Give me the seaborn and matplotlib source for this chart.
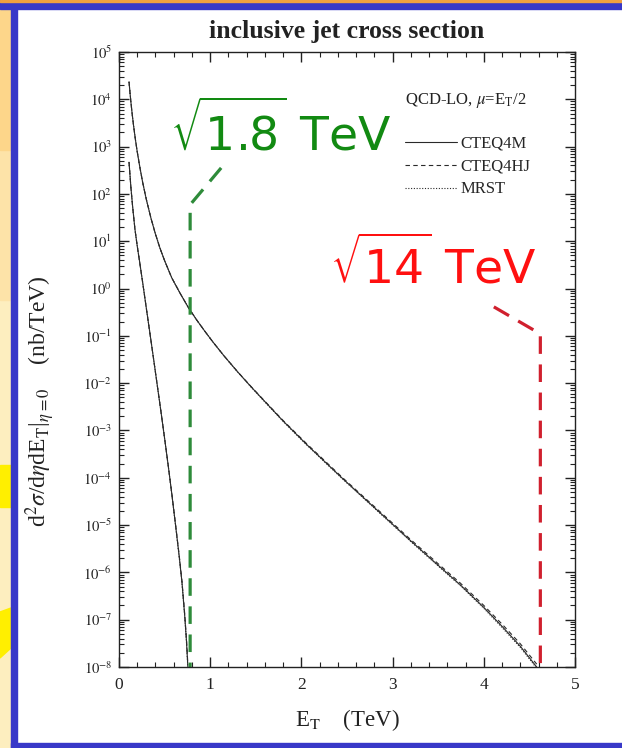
import numpy as np
import pandas as pd
import matplotlib
matplotlib.use("Agg")
import matplotlib.pyplot as plt
import seaborn as sns
from matplotlib.patches import Rectangle, Polygon
from matplotlib.lines import Line2D
from matplotlib.ticker import FixedLocator, NullFormatter, MultipleLocator, LogLocator

# ---------------- data ----------------
et_14 = [0.11, 0.12, 0.13, 0.145, 0.16, 0.18, 0.20, 0.23, 0.26, 0.30, 0.35, 0.40, 0.45, 0.50,
         0.58, 0.67, 0.76, 0.85, 0.94, 1.03, 1.15, 1.30, 1.45, 1.58, 1.80, 2.06, 2.30, 2.46,
         2.80, 3.19, 3.50, 3.74, 4.00, 4.21, 4.40, 4.58]
xs_14_cteq4m = [2.34e4, 1.41e4, 8.9e3, 4.8e3, 2.75e3, 1.41e3, 776, 355, 174, 75.9, 30.9, 14.1, 7.08, 3.89,
                1.66, 0.794, 0.398, 0.219, 0.126, 0.0741, 0.0380, 0.0174, 8.3e-3, 4.47e-3, 1.58e-3, 5.0e-4, 1.82e-4, 9.3e-5,
                2.34e-5, 4.8e-6, 1.41e-6, 5.5e-7, 1.82e-7, 6.9e-8, 2.75e-8, 1.0e-8]
xs_14_cteq4hj = [2.34e4, 1.41e4, 8.9e3, 4.8e3, 2.75e3, 1.41e3, 776, 355, 174, 75.9, 30.9, 14.1, 7.08, 3.89,
                 1.66, 0.794, 0.398, 0.219, 0.126, 0.0741, 0.0381, 0.0175, 8.4e-3, 4.55e-3, 1.62e-3, 5.2e-4, 1.90e-4, 9.7e-5,
                 2.46e-5, 5.1e-6, 1.52e-6, 6.0e-7, 2.0e-7, 7.7e-8, 3.1e-8, 1.15e-8]
xs_14_mrst = [2.34e4, 1.41e4, 8.9e3, 4.8e3, 2.75e3, 1.41e3, 776, 355, 174, 75.9, 30.9, 14.1, 7.08, 3.89,
              1.66, 0.794, 0.398, 0.219, 0.126, 0.0740, 0.0379, 0.0173, 8.2e-3, 4.4e-3, 1.55e-3, 4.9e-4, 1.78e-4, 9.1e-5,
              2.28e-5, 4.65e-6, 1.36e-6, 5.3e-7, 1.74e-7, 6.5e-8, 2.6e-8, 9.4e-9]

et_18 = [0.11, 0.13, 0.15, 0.175, 0.20, 0.225, 0.26, 0.30, 0.34, 0.38, 0.42, 0.46, 0.50, 0.54,
         0.58, 0.62, 0.66, 0.69, 0.72, 0.74, 0.755]
xs_18_cteq4m = [468, 141, 52.5, 17.8, 7.94, 3.80, 1.32, 0.380, 0.110, 0.0316, 8.9e-3, 2.51e-3, 6.8e-4, 1.78e-4,
                4.4e-5, 1.0e-5, 2.19e-6, 6.3e-7, 1.26e-7, 3.5e-8, 1.0e-8]
xs_18_cteq4hj = [468, 141, 52.5, 17.8, 7.94, 3.80, 1.32, 0.380, 0.110, 0.0316, 8.9e-3, 2.52e-3, 6.9e-4, 1.81e-4,
                 4.5e-5, 1.04e-5, 2.3e-6, 6.7e-7, 1.36e-7, 3.9e-8, 1.15e-8]
xs_18_mrst = [468, 141, 52.5, 17.8, 7.94, 3.80, 1.32, 0.380, 0.110, 0.0316, 8.9e-3, 2.50e-3, 6.7e-4, 1.76e-4,
              4.3e-5, 9.8e-6, 2.12e-6, 6.1e-7, 1.2e-7, 3.3e-8, 9.5e-9]

# annotation pointer lines
green_ptr_x = [1.12, 0.78, 0.78]
green_ptr_y = [355, 59, 1e-8]
red_ptr_x = [4.11, 4.62, 4.62]
red_ptr_y = [0.41, 0.11, 1e-8]

pdf_labels = ["CTEQ4M", "CTEQ4HJ", "MRST"]
y_tick_exps = list(range(-8, 6))
x_ticks = [0, 1, 2, 3, 4, 5]

# ---------------- style ----------------
sns.set_theme(style="ticks")
plt.rcParams["font.family"] = ["Liberation Serif", "DejaVu Serif"]
plt.rcParams["mathtext.fontset"] = "stix"
plt.rcParams["axes.linewidth"] = 1.0

W, H = 622, 748
fig = plt.figure(figsize=(W / 100, H / 100), dpi=100)
fig.patch.set_facecolor("white")

def fx(px):
    return px / W

def fy(py):
    return 1 - py / H

blue = "#3838c8"
# left gutter
fig.patches.append(Rectangle((0, 0), fx(11), 1, transform=fig.transFigure, color="#fdeebf", zorder=0))
fig.patches.append(Rectangle((0, fy(300)), fx(11), 300 / H, transform=fig.transFigure, color="#fde3a8", zorder=0))
fig.patches.append(Rectangle((0, fy(150)), fx(11), 150 / H, transform=fig.transFigure, color="#fdd68a", zorder=0))
fig.patches.append(Polygon([(0, fy(465)), (fx(11), fy(465)), (fx(11), fy(507)), (0, fy(507))],
                           closed=True, transform=fig.transFigure, color="#ffef00", zorder=0))
fig.patches.append(Polygon([(0, fy(612)), (fx(11), fy(608)), (fx(11), fy(648)), (0, fy(658))],
                           closed=True, transform=fig.transFigure, color="#ffef00", zorder=0))
# blue frame
fig.patches.append(Rectangle((fx(11), 0), fx(6), 1, transform=fig.transFigure, color=blue, zorder=1))
fig.patches.append(Rectangle((0, fy(9)), 1, 9 / H, transform=fig.transFigure, color=blue, zorder=1))
fig.patches.append(Rectangle((0, fy(1.5)), 1, 1.5 / H, transform=fig.transFigure, color="#f0a040", zorder=1))
fig.patches.append(Rectangle((fx(11), 0), 1, 5 / H, transform=fig.transFigure, color=blue, zorder=1))

ax = fig.add_axes([fx(119), fy(667), fx(575) - fx(119), (667 - 52) / H])
ax.set_facecolor("none")
ax.set_yscale("log")

curve_col = "#2a2a2a"
styles = {"CTEQ4M": "-", "CTEQ4HJ": (0, (4, 3)), "MRST": (0, (1, 1.5))}
for lab, ys14, ys18 in zip(pdf_labels,
                           [xs_14_cteq4m, xs_14_cteq4hj, xs_14_mrst],
                           [xs_18_cteq4m, xs_18_cteq4hj, xs_18_mrst]):
    df14 = pd.DataFrame({"ET": et_14, "xs": ys14})
    df18 = pd.DataFrame({"ET": et_18, "xs": ys18})
    sns.lineplot(data=df14, x="ET", y="xs", ax=ax, color=curve_col, lw=0.8,
                 linestyle=styles[lab], estimator=None, sort=False)
    sns.lineplot(data=df18, x="ET", y="xs", ax=ax, color=curve_col, lw=0.8,
                 linestyle=styles[lab], estimator=None, sort=False)

sns.lineplot(x=green_ptr_x, y=green_ptr_y, ax=ax, color="#2e8b3a", lw=2.3,
             linestyle=(0, (5.5, 3.3)), estimator=None, sort=False)
sns.lineplot(x=red_ptr_x, y=red_ptr_y, ax=ax, color="#d0202e", lw=2.3,
             linestyle=(0, (5.5, 3.3)), estimator=None, sort=False)

ax.set_xlim(0, 5)
ax.set_ylim(1e-8, 1e5)
ax.xaxis.set_major_locator(FixedLocator(x_ticks))
ax.xaxis.set_minor_locator(MultipleLocator(0.2))
ax.set_xticklabels([str(t) for t in x_ticks])
ax.yaxis.set_major_locator(FixedLocator([10.0 ** e for e in y_tick_exps]))
ax.yaxis.set_minor_locator(LogLocator(base=10, subs=np.arange(2, 10), numticks=100))
ax.yaxis.set_minor_formatter(NullFormatter())
ax.set_yticklabels([r"$10^{%d}$" % e for e in y_tick_exps])
ax.tick_params(axis="both", which="both", direction="in", top=True, right=True, colors="#222222")
ax.tick_params(axis="both", which="major", length=7, width=1.0)
ax.tick_params(axis="both", which="minor", length=3.5, width=0.8)
ax.tick_params(axis="y", which="major", labelsize=10.5, pad=5)
ax.tick_params(axis="x", which="major", labelsize=12.5, pad=7)
for s in ax.spines.values():
    s.set_color("#222222")

ax.set_title("inclusive jet cross section", fontsize=18.5, fontweight="bold", pad=10, color="#222222")
ax.set_xlabel(r"E$_\mathrm{T}$    (TeV)", fontsize=16.5, labelpad=10, color="#222222")
ax.set_ylabel(r"d$^2\sigma$/d$\eta$dE$_\mathrm{T}$|$_{\eta=0}$    (nb/TeV)", fontsize=17, color="#222222")
ax.yaxis.set_label_coords((57 - 119) / 456, (667 - 401) / 615)

# legend
ax.text((405 - 119) / 456, (667 - 101) / 615, r"QCD-LO, $\mu$=E$_\mathrm{T}$/2", transform=ax.transAxes,
        fontsize=12, va="center", ha="left", color="#222222")
handles = [Line2D([], [], color=curve_col, lw=0.8, linestyle=styles[l]) for l in pdf_labels]
ax.legend(handles, pdf_labels, loc="upper left", bbox_to_anchor=((405 - 119) / 456, (667 - 136) / 615),
          frameon=False, fontsize=12, handlelength=3.1, handletextpad=0.25, labelspacing=0.4,
          borderaxespad=0, borderpad=0)

# big annotations
ax.text(fx(170), fy(151), r"$\sqrt{1.8}$ TeV", transform=fig.transFigure, fontsize=34,
        family="DejaVu Sans", math_fontfamily="dejavusans", color="#128a12", ha="left", va="baseline")
ax.text(fx(330), fy(284), r"$\sqrt{14}$ TeV", transform=fig.transFigure, fontsize=34,
        family="DejaVu Sans", math_fontfamily="dejavusans", color="#ff1010", ha="left", va="baseline")

fig.savefig("out.png", dpi=100)
